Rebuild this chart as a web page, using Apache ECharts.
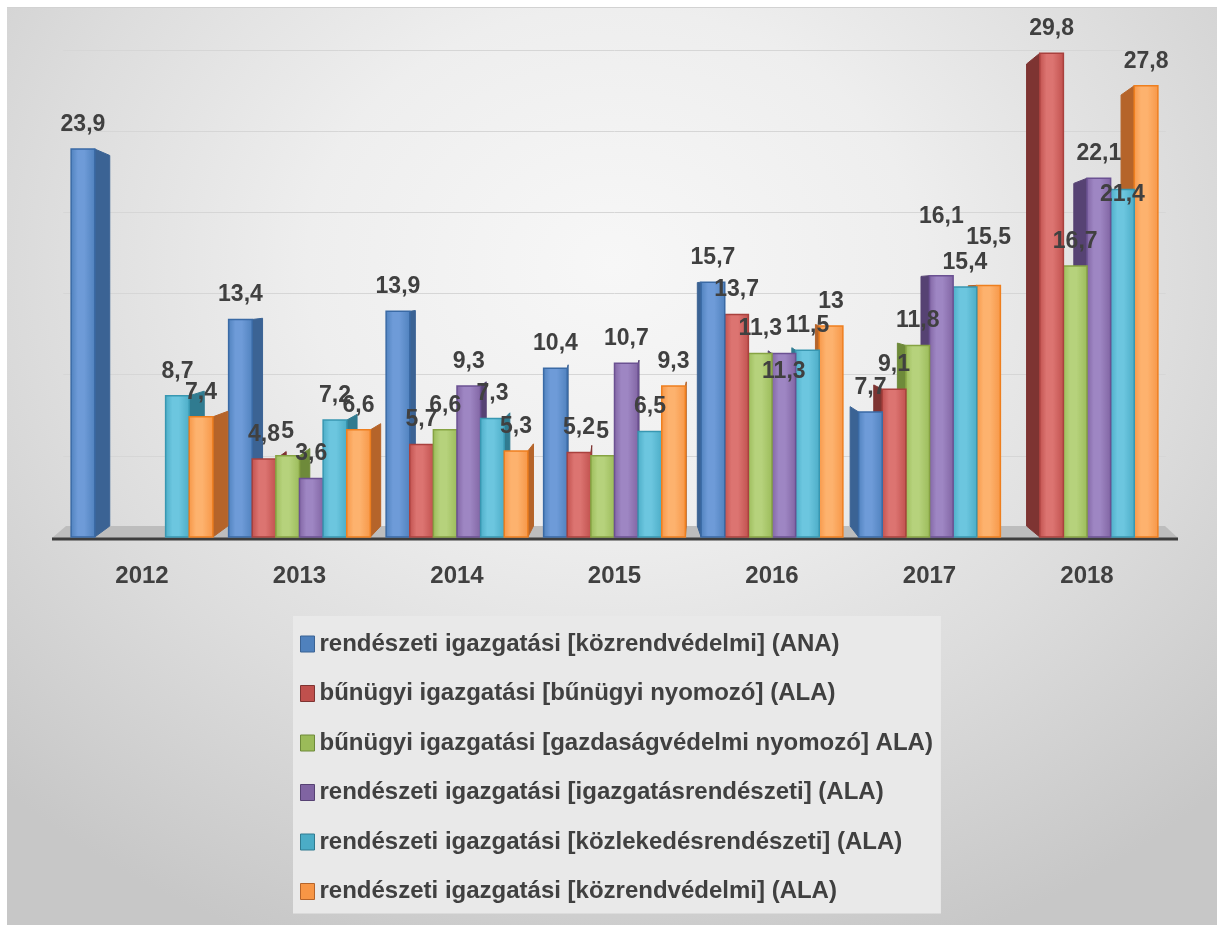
<!DOCTYPE html>
<html>
<head>
<meta charset="utf-8">
<script src="https://cdn.jsdelivr.net/npm/echarts@6/dist/echarts.min.js"></script>
<style>
html,body{margin:0;padding:0;background:#ffffff;width:1217px;height:925px;overflow:hidden;}
#chart{position:absolute;left:7px;top:7px;width:1210px;height:918px;
background:radial-gradient(ellipse 72% 80% at 50% 28%, #f7f7f7 0%, #eeeeee 35%, #dddddd 65%, #c7c7c7 100%);
border-top:1px solid #d2d2d2;box-sizing:border-box;}
</style>
</head>
<body>
<div id="chart"></div>
<script>
// ---- data ----
const categories = ['2012', '2013', '2014', '2015', '2016', '2017', '2018'];
const seriesNames = [
  'rendészeti igazgatási [közrendvédelmi] (ANA)',
  'bűnügyi igazgatási [bűnügyi nyomozó] (ALA)',
  'bűnügyi igazgatási [gazdaságvédelmi nyomozó] ALA)',
  'rendészeti igazgatási [igazgatásrendészeti] (ALA)',
  'rendészeti igazgatási [közlekedésrendészeti] (ALA)',
  'rendészeti igazgatási [közrendvédelmi] (ALA)'
];
const kozrendANA      = [23.9, 13.4, 13.9, 10.4, 15.7, 7.7, null];
const bunugyiNyomozo  = [null, 4.8, 5.7, 5.2, 13.7, 9.1, 29.8];
const gazdasagvedelmi = [null, 5, 6.6, 5, 11.3, 11.8, 16.7];
const igazgatasrend   = [null, 3.6, 9.3, 10.7, 11.3, 16.1, 22.1];
const kozlekedesrend  = [8.7, 7.2, 7.3, 6.5, 11.5, 15.4, 21.4];
const kozrendALA      = [7.4, 6.6, 5.3, 9.3, 13, 15.5, 27.8];
const allValues = [kozrendANA, bunugyiNyomozo, gazdasagvedelmi, igazgatasrend, kozlekedesrend, kozrendALA];

// ---- styles ----
const palette = [
  {base:'#4f81bd', light:'#6e9bd8', side:'#3b6394', stroke:'#3a6aa5'},
  {base:'#c0504d', light:'#dc7471', side:'#7e3432', stroke:'#a9413e'},
  {base:'#9bbb59', light:'#b6d27c', side:'#6e8a3a', stroke:'#86a343'},
  {base:'#8064a2', light:'#9e86c3', side:'#564273', stroke:'#6b5192'},
  {base:'#4bacc6', light:'#6cc6df', side:'#307b90', stroke:'#3897b1'},
  {base:'#f79646', light:'#fdb26e', side:'#b5642a', stroke:'#ee7f1f'}
];
// manual label nudges (series index, category index, extra dy in px)
const labelNudge = {'3_4': 43, '3_5': -34, '5_5': -23, '4_6': 30};
const textColor = '#404040';
const fontFam = '"Liberation Sans", Arial, sans-serif';

function makeRender(si) {
  return function (params, api) {
    const ci = api.value(0);
    const v = api.value(1);
    if (v === null || v === undefined || isNaN(v)) return;
    const p0 = api.coord([ci, 0]);
    const p1 = api.coord([ci, v]);
    const band = api.size([1, 0])[0];
    const bw = band * 0.9 / 6;
    const x0 = p0[0] - 3 * bw + si * bw;
    const yb = p0[1], yt = p1[1];
    const dx = 15 - 4.7 * ci;
    const ybb = yb - 11;
    const ytb = ybb + (yt - yb) * 0.955;
    const edge = dx > 0 ? x0 + bw : x0;
    const order = dx > 0 ? si : 10 - si;
    const c = palette[si];
    const nudge = labelNudge[si + '_' + ci] || 0;
    return {
      type: 'group',
      children: [
        {
          type: 'polygon',
          z2: order * 2,
          shape: {points: [[edge, yt], [edge + dx, ytb], [edge + dx, ybb], [edge, yb]]},
          style: {fill: c.side, stroke: c.side, lineWidth: 1}
        },
        {
          type: 'rect',
          z2: order * 2 + 1,
          shape: {x: x0, y: yt, width: bw, height: yb - yt},
          style: {
            fill: new echarts.graphic.LinearGradient(0, 0, 1, 0, [
              {offset: 0, color: c.base},
              {offset: 0.3, color: c.light},
              {offset: 0.55, color: c.light},
              {offset: 1, color: c.base}
            ]),
            stroke: c.stroke, lineWidth: 1.5
          }
        },
        {
          type: 'text',
          z2: 100,
          style: {
            text: String(v).replace('.', ','),
            x: x0 + bw / 2,
            y: yt - 13 + nudge,
            align: 'center',
            verticalAlign: 'bottom',
            fill: textColor,
            font: 'bold 23px ' + fontFam
          }
        }
      ]
    };
  };
}

const series = allValues.map(function (vals, si) {
  return {
    type: 'custom',
    name: seriesNames[si],
    renderItem: makeRender(si),
    itemStyle: {color: palette[si].base},
    encode: {x: 0, y: 1},
    data: vals.map(function (v, ci) { return [ci, v === null ? '-' : v]; })
  };
});

const chart = echarts.init(document.getElementById('chart'), null, {renderer: 'canvas'});
chart.setOption({
  animation: false,
  grid: {left: 56.25, right: 51.25, top: 42, bottom: 388},
  xAxis: {
    type: 'category',
    data: categories,
    axisLine: {show: false},
    axisTick: {show: false},
    axisLabel: {margin: 27, fontSize: 24, fontWeight: 'bold', color: textColor, fontFamily: fontFam}
  },
  yAxis: {
    type: 'value', min: 0, max: 30, interval: 5,
    axisLine: {show: false}, axisTick: {show: false}, axisLabel: {show: false},
    splitLine: {lineStyle: {color: '#d6d6d6', width: 1}}
  },
  legend: {
    orient: 'vertical',
    left: 286, top: 608,
    backgroundColor: '#e9e9e9',
    padding: [14, 8, 8, 7],
    itemWidth: 14, itemHeight: 16, itemGap: 21.5,
    icon: 'rect',
    textStyle: {fontSize: 24, fontWeight: 'bold', color: textColor, fontFamily: fontFam, lineHeight: 28},
    data: seriesNames.map(function (n, i) {
      return {name: n, itemStyle: {color: palette[i].base, borderColor: palette[i].side, borderWidth: 1}};
    })
  },
  graphic: [
    {type: 'polygon', z: 1, shape: {points: [[45, 530], [1171, 530], [1158, 518], [59, 518]]}, style: {fill: '#bdbdbd'}},
    {type: 'line', z: 1, shape: {x1: 45, y1: 531, x2: 1171, y2: 531}, style: {stroke: '#3d3d3d', lineWidth: 3}}
  ],
  series: series
});
</script>
</body>
</html>
